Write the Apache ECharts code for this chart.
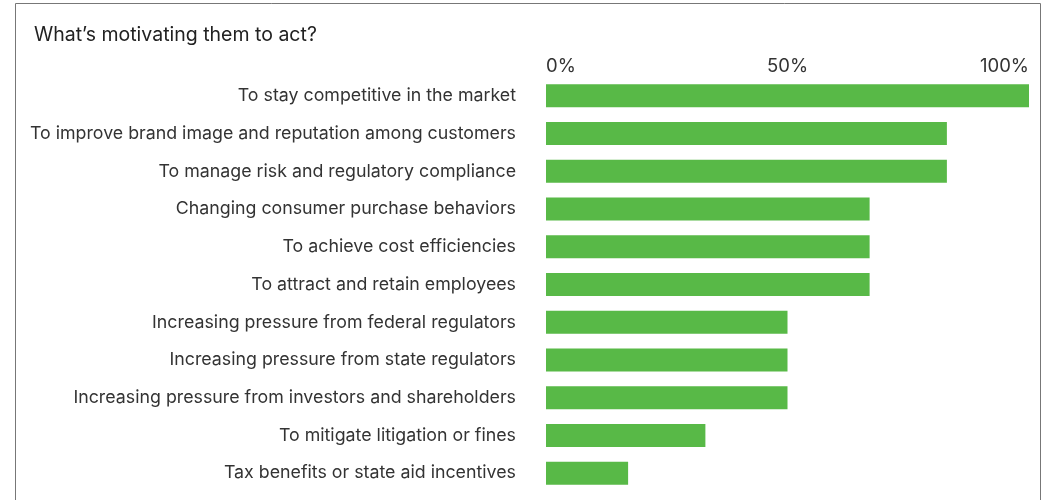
<!DOCTYPE html>
<html>
<head>
<meta charset="utf-8">
<script src="https://cdn.jsdelivr.net/npm/echarts@6/dist/echarts.min.js"></script>
<style>
  html, body { margin: 0; padding: 0; background: #fff; }
  #chart { width: 1049px; height: 500px; }
</style>
</head>
<body>
<div id="chart"></div>
<script>
// reasons, top to bottom
const categories = [
  'To stay competitive in the market',
  'To improve brand image and reputation among customers',
  'To manage risk and regulatory compliance',
  'Changing consumer purchase behaviors',
  'To achieve cost efficiencies',
  'To attract and retain employees',
  'Increasing pressure from federal regulators',
  'Increasing pressure from state regulators',
  'Increasing pressure from investors and shareholders',
  'To mitigate litigation or fines',
  'Tax benefits or state aid incentives'
];
// share of respondents, %
const values = [100, 83, 83, 67, 67, 67, 50, 50, 50, 33, 17];
const tickValues = [0, 50, 100];

const FONT = 'Inter';
const chart = echarts.init(document.getElementById('chart'));

chart.setOption({
  animation: false,
  title: {
    text: 'What’s motivating them to act?',
    left: 29,
    top: 20,
    textStyle: { fontFamily: FONT, fontSize: 19.5, fontWeight: 'normal', color: '#222' }
  },
  // frame around the figure (bottom edge is cut off)
  graphic: [{
    type: 'rect',
    shape: { x: 15.5, y: 3.5, width: 1025, height: 520 },
    style: { fill: 'none', stroke: '#777', lineWidth: 1 },
    silent: true
  }],
  grid: { left: 546, right: 20, top: 77, bottom: 8 },
  xAxis: {
    type: 'value',
    position: 'top',
    min: 0,
    max: 100,
    interval: 50,
    axisLine: { show: false },
    axisTick: { show: false },
    splitLine: { show: false },
    axisLabel: {
      margin: 1,
      alignMinLabel: 'left',
      alignMaxLabel: 'right',
      fontFamily: FONT,
      fontSize: 18.5,
      color: '#333',
      formatter: v => tickValues.includes(v) ? v + '%' : ''
    }
  },
  yAxis: {
    type: 'category',
    inverse: true,
    data: categories,
    axisLine: { show: false },
    axisTick: { show: false },
    axisLabel: { margin: 30, fontFamily: FONT, fontSize: 17.8, color: '#333' }
  },
  series: [{
    type: 'bar',
    data: values,
    barWidth: 23,
    itemStyle: { color: '#58b947' },
    silent: true
  }]
});
</script>
</body>
</html>
